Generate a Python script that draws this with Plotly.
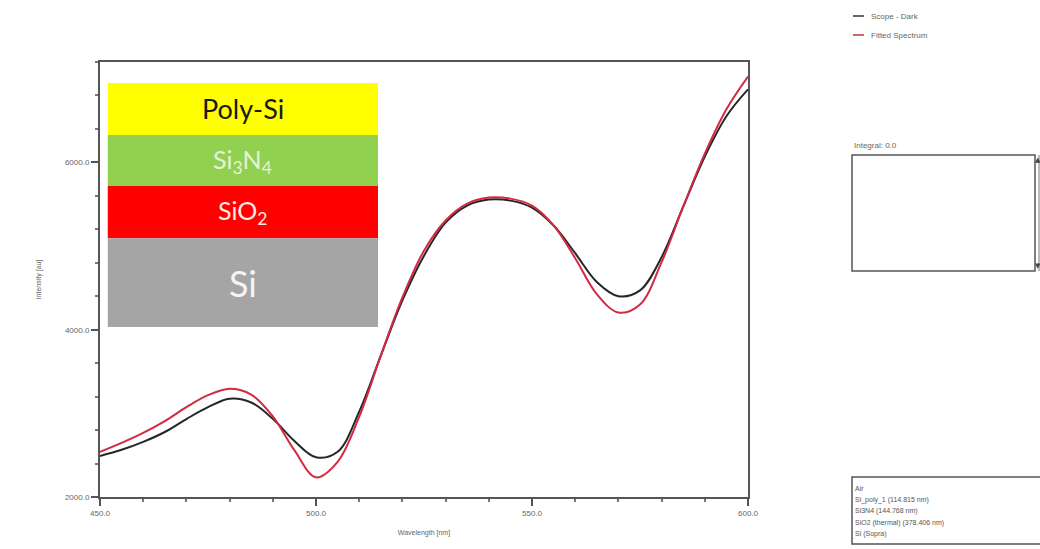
import plotly.graph_objects as go

# Wavelength grid (nm) and measured / fitted intensities (a.u.)
wavelength = [450, 455, 460, 465, 470, 475, 480, 485, 490, 495, 500, 505, 510, 515, 520,
              525, 530, 535, 540, 545, 550, 555, 560, 565, 570, 575, 580, 585, 590, 595, 600]
scope_dark = [2490, 2564, 2659, 2777, 2932, 3074, 3175, 3130, 2935, 2670, 2475, 2540, 3020, 3690, 4350,
              4885, 5280, 5484, 5555, 5543, 5460, 5246, 4914, 4570, 4400, 4470, 4867, 5470, 6070, 6552, 6873]
fitted = [2540, 2647, 2766, 2908, 3074, 3217, 3295, 3225, 2965, 2560, 2235, 2420, 2960, 3690, 4385,
          4945, 5306, 5507, 5579, 5567, 5484, 5246, 4855, 4425, 4205, 4300, 4807, 5470, 6105, 6635, 7027]

legend_names = ["Scope - Dark", "Fitted Spectrum"]
layer_names = ["Poly-Si", "Si<sub>3</sub>N<sub>4</sub>", "SiO<sub>2</sub>", "Si"]
layer_colors = ["#ffff00", "#92d050", "#ff0000", "#a5a5a5"]
layer_text_colors = ["#1a1a1a", "#e4f3d6", "#ffe8e8", "#f4f4f4"]
model_lines = ["Air", "Si_poly_1 (114.815 nm)", "Si3N4 (144.768 nm)",
               "SiO2 (thermal) (378.406 nm)", "Si (Sopra)"]

FONT = "Liberation Sans, Arial, sans-serif"
GREY = "#666666"

W, H = 1040, 549
ML, MR, MT, MB = 100, 292, 62, 52
PW, PH = W - ML - MR, H - MT - MB


def px(x):
    """Page pixel column -> paper coordinate."""
    return (x - ML) / PW


def py(y):
    """Page pixel row -> paper coordinate."""
    return (H - MB - y) / PH


fig = go.Figure()
fig.add_trace(go.Scatter(x=wavelength, y=scope_dark, name=legend_names[0], mode="lines",
                         line=dict(color="#262626", width=2, shape="spline", smoothing=1.0)))
fig.add_trace(go.Scatter(x=wavelength, y=fitted, name=legend_names[1], mode="lines",
                         line=dict(color="#d22a40", width=2, shape="spline", smoothing=1.0)))

shapes = []
annotations = []

# Layer stack inset (in axis-domain coordinates)
layer_bounds = [(0.952, 0.832), (0.832, 0.715), (0.715, 0.595), (0.595, 0.391)]
for (top, bot), col in zip(layer_bounds, layer_colors):
    shapes.append(dict(type="rect", xref="x domain", yref="y domain", x0=0.012, x1=0.429,
                       y0=bot, y1=top, fillcolor=col, line=dict(width=0), layer="above"))
layer_sizes = [27, 25, 25, 36]
for (top, bot), name, tc, sz in zip(layer_bounds, layer_names, layer_text_colors, layer_sizes):
    annotations.append(dict(xref="x domain", yref="y domain", x=0.2205, y=(top + bot) / 2,
                            text=name, showarrow=False, xanchor="center", yanchor="middle",
                            font=dict(family="Lato, Open Sans, sans-serif", size=sz, color=tc)))

# Legend entries at top right
for i, (name, col) in enumerate(zip(legend_names, ["#333333", "#c03040"])):
    yp = 16 + 19 * i
    shapes.append(dict(type="line", xref="paper", yref="paper",
                       x0=px(853), x1=px(864), y0=py(yp), y1=py(yp),
                       line=dict(color=col, width=1.5)))
    annotations.append(dict(xref="paper", yref="paper", x=px(869), y=py(yp),
                            text=name, showarrow=False, xanchor="left", yanchor="middle",
                            font=dict(family=FONT, size=8, color=GREY)))

# Integral panel
annotations.append(dict(xref="paper", yref="paper", x=px(852), y=py(145),
                        text="Integral: 0.0", showarrow=False, xanchor="left", yanchor="middle",
                        font=dict(family=FONT, size=8, color=GREY)))
shapes.append(dict(type="rect", xref="paper", yref="paper", x0=px(852), x1=px(1035),
                   y0=py(271), y1=py(155), line=dict(color="#555555", width=1.5),
                   fillcolor="white"))
shapes.append(dict(type="line", xref="paper", yref="paper", x0=px(1039), x1=px(1039),
                   y0=py(271), y1=py(155), line=dict(color="#777777", width=1)))
for yp, sym in [(160, "▲"), (266, "▼")]:
    annotations.append(dict(xref="paper", yref="paper", x=px(1038), y=py(yp),
                            text=sym, showarrow=False, xanchor="center", yanchor="middle",
                            font=dict(family="DejaVu Sans", size=7, color="#444444")))

# Layer model panel
shapes.append(dict(type="rect", xref="paper", yref="paper", x0=px(852), x1=px(1045),
                   y0=py(544), y1=py(477), line=dict(color="#555555", width=1.5),
                   fillcolor="white"))
for i, line in enumerate(model_lines):
    yp = 488 + 11.5 * i
    annotations.append(dict(xref="paper", yref="paper", x=px(853), y=py(yp),
                            text=line, showarrow=False, xanchor="left", yanchor="middle",
                            font=dict(family=FONT, size=7, color="#555555")))

fig.update_layout(
    width=W, height=H,
    margin=dict(l=ML, r=MR, t=MT, b=MB),
    paper_bgcolor="white", plot_bgcolor="white",
    showlegend=False,
    shapes=shapes, annotations=annotations,
    font=dict(family=FONT, size=8, color=GREY),
)
fig.update_xaxes(
    range=[450, 600], tickvals=[450, 500, 550, 600], tickformat=".1f",
    showgrid=False, zeroline=False, showline=True, linecolor="#555555", linewidth=2,
    mirror=True, ticks="outside", ticklen=7, tickcolor="#555555", tickwidth=1.5,
    minor=dict(dtick=10, ticks="outside", ticklen=3, tickcolor="#777777"),
    tickfont=dict(size=8, color=GREY),
    title=dict(text="Wavelength [nm]", font=dict(size=7, color=GREY), standoff=14),
)
fig.update_yaxes(
    range=[2000, 7200], tickvals=[2000, 4000, 6000], tickformat=".1f",
    showgrid=False, zeroline=False, showline=True, linecolor="#555555", linewidth=2,
    mirror=True, ticks="outside", ticklen=7, tickcolor="#555555", tickwidth=1.5,
    minor=dict(dtick=400, ticks="outside", ticklen=3, tickcolor="#777777"),
    tickfont=dict(size=8, color=GREY),
    title=dict(text="Intensity [au]", font=dict(size=7, color=GREY), standoff=22),
)

fig.write_html("out.html")
